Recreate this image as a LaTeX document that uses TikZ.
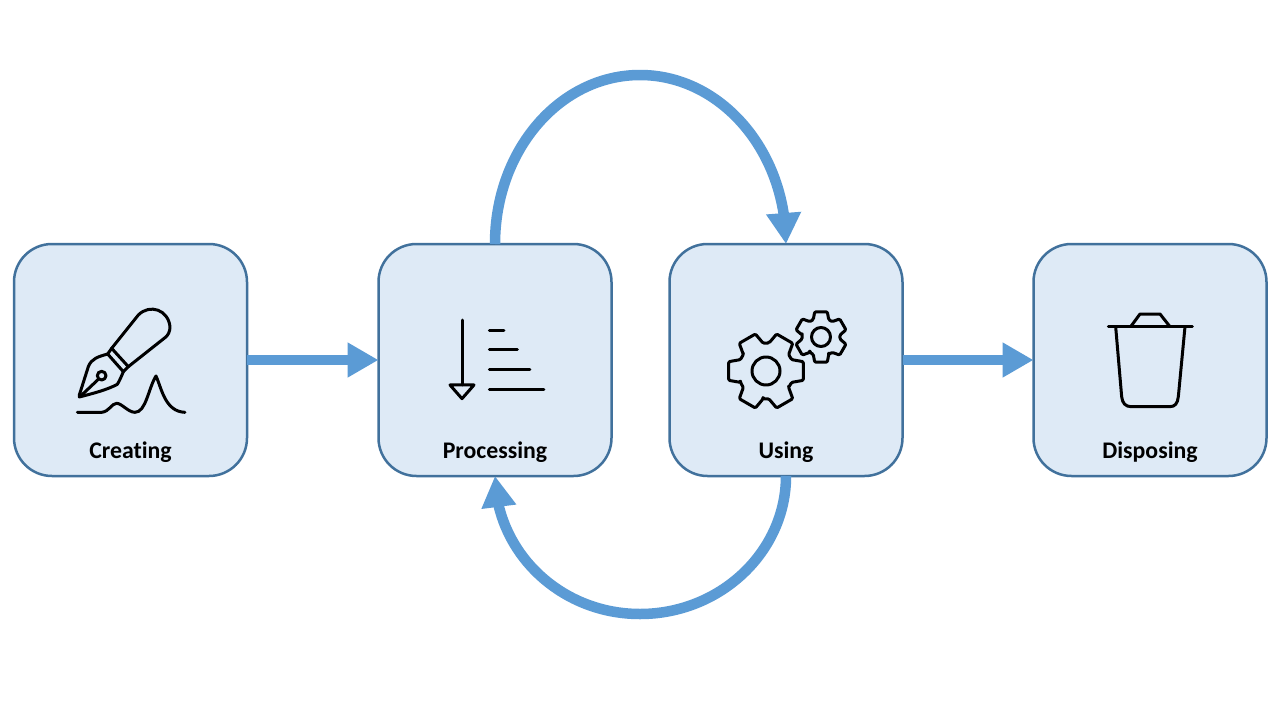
\documentclass[tikz,border=0pt]{standalone}
\usepackage{fontspec}
\setmainfont[Ligatures=NoCommon]{Carlito}
\usetikzlibrary{arrows.meta,bending}
\definecolor{boxfill}{HTML}{DEEAF6}
\definecolor{boxline}{HTML}{41719C}
\definecolor{flow}{HTML}{5B9BD5}
\tikzset{
  stage/.style={draw=boxline,fill=boxfill,line width=2.5pt,rounded corners=38pt,minimum width=233pt,minimum height=232pt,inner sep=0pt,outer sep=0pt},
  stagelabel/.style={font=\bfseries\fontsize{23.8}{26}\selectfont,text=black,inner sep=0pt},
  flowline/.style={draw=flow,line width=10.5pt,-{Triangle[length=31pt,width=33pt,flex]}},
  icon/.style={draw=black,line width=3pt,line cap=round,line join=round,fill=none}
}
\newcommand{\gearshape}[4]{% centre, outer, root, rotation
  \draw[icon,rounded corners=1.2pt,shift={#1},rotate=#4]
    (-36:#3) \foreach \a in {0,60,...,300} { -- (\a-24:#3) -- (\a-14:#2) -- (\a+14:#2) -- (\a+24:#3) -- (\a+36:#3)} -- cycle;
}
\begin{document}
\begin{tikzpicture}[x=1pt,y=-1pt]
\useasboundingbox (0,0) rectangle (1280,720);
\fill[white] (0,0) rectangle (1280,720);
\node[stage] (creating) at (130.5,360) {};
\node[stage] (processing) at (495,360) {};
\node[stage] (using) at (786,360) {};
\node[stage] (disposing) at (1150,360) {};
\node[stagelabel] (lcreating) at (130.5,452) {Creating};
\node[stagelabel] (lprocessing) at (495,452) {Processing};
\node[stagelabel] (lusing) at (786,452) {Using};
\node[stagelabel] (ldisposing) at (1150,452) {Disposing};
\coordinate (topmid) at (640,75);
\coordinate (botmid) at (640,614);
\draw[flowline] (creating.east) -- (processing.west);
\draw[flowline] (using.east) -- (disposing.west);
\draw[flowline] (processing.north) .. controls (495,150) and (560,75) .. (topmid) .. controls (720,75) and (786,150) .. (using.north);
\draw[flowline] (using.south) .. controls (786,552) and (720,614) .. (botmid) .. controls (560,614) and (496,552) .. (processing.south);
% pen icon
\begin{scope}[shift={(60,295)},x=0.3333pt,y=-0.3333pt]
\draw[icon] (155,160) -- (235,60) .. controls (270,25) and (325,45) .. (330,95) .. controls (330,110) and (325,120) .. (315,128) -- (205,215);
\draw[icon] (155,160) -- (205,215);
\draw[icon] (143,177) -- (155,160);
\draw[icon] (143,177) -- (190,230) -- (205,215);
\draw[icon] (143,177) .. controls (115,185) and (95,190) .. (85,215) -- (58,300) -- (58,306) .. controls (100,295) and (140,285) .. (172,268) .. controls (180,255) and (185,242) .. (190,230);
\draw[icon] (60,305) -- (115,253);
\draw[icon] (125,242) circle[radius=13];
\draw[icon] (52,352) -- (125,352) .. controls (148,350) and (155,325) .. (170,325) .. controls (185,325) and (205,352) .. (225,352) .. controls (258,352) and (265,280) .. (288,243) .. controls (305,280) and (315,350) .. (375,352);
\end{scope}
% sorting icon
\begin{scope}[shift={(430,305)},x=0.3333pt,y=-0.3333pt]
\draw[icon] (96,45) -- (96,240);
\draw[icon] (60,240) -- (132,240) -- (96,281) -- cycle;
\draw[icon] (178,75) -- (222,75);
\draw[icon] (178,135) -- (262,135);
\draw[icon] (178,195) -- (300,195);
\draw[icon] (178,255) -- (342,255);
\end{scope}
% gears
\gearshape{(766,371)}{38.5}{28}{0}
\draw[icon] (766,371) circle[radius=14];
\gearshape{(821,337)}{26}{19}{30}
\draw[icon] (821,337) circle[radius=9.5];
% bin icon
\begin{scope}[shift={(1095,305)},x=0.3333pt,y=-0.3333pt]
\draw[icon] (40,65) -- (292,65);
\draw[icon] (107,65) -- (135,27) -- (195,27) -- (225,65);
\draw[icon] (62,65) -- (80,275) .. controls (82,295) and (92,305) .. (108,305) -- (225,305) .. controls (240,305) and (248,295) .. (250,275) -- (270,65);
\end{scope}
\end{tikzpicture}
\end{document}
